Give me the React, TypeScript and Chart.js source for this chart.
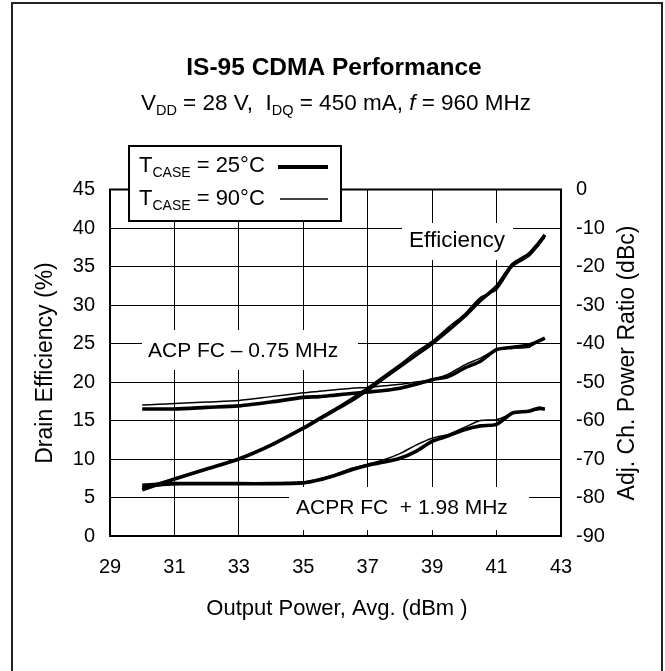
import React, { useEffect, useRef } from "react";
import { Chart, registerables } from "chart.js";
Chart.register(...registerables);

const FONT = '"Liberation Sans", Arial, sans-serif';

// Output power (dBm) sample points
const power = [30, 30.5, 31, 32, 33, 34, 35, 35.5, 36, 36.5, 37, 37.5, 38, 38.5, 39, 39.5, 40, 40.5, 41, 41.5, 42, 42.3, 42.5];

// Drain efficiency (%)
const eff25 = [6.0, 6.7, 7.4, 8.7, 10.0, 11.8, 14.0, 15.2, 16.4, 17.6, 19.0, 20.5, 22.0, 23.5, 25.0, 26.7, 28.5, 30.6, 32.4, 35.3, 36.6, 38.0, 39.1];
const eff90 = [6.4, 6.9, 7.4, 8.7, 10.1, 11.9, 14.1, 15.4, 16.6, 17.9, 19.3, 20.8, 22.3, 23.9, 25.3, 27.1, 28.8, 31.0, 32.0, 35.0, 36.3, 37.7, 38.8];

// ACP FC - 0.75 MHz (dBc)
const acp25 = [-57.0, -57.0, -57.0, -56.6, -56.2, -55.2, -54.0, -53.8, -53.4, -53.0, -52.6, -52.2, -51.6, -50.6, -49.4, -48.6, -46.4, -44.6, -41.6, -41.0, -40.4, -39.4, -38.6];
const acp90 = [-56.0, -55.8, -55.6, -55.2, -54.8, -53.8, -52.8, -52.4, -52.0, -51.6, -51.4, -51.0, -50.6, -50.0, -49.4, -48.0, -45.6, -43.8, -41.6, -41.2, -41.0, -39.4, -38.8];

// ACPR FC + 1.98 MHz (dBc)
const acpr25 = [-76.8, -76.6, -76.4, -76.4, -76.4, -76.4, -76.2, -75.4, -74.2, -72.8, -71.6, -70.8, -69.8, -68.0, -65.4, -64.0, -62.4, -61.4, -61.0, -58.0, -57.6, -56.8, -57.0];
const acpr90 = [-77.4, -77.0, -76.6, -76.4, -76.4, -76.2, -76.0, -75.2, -74.0, -72.4, -71.4, -70.2, -68.6, -66.4, -64.6, -63.6, -61.8, -60.0, -59.8, -58.2, -57.6, -57.2, -57.0];

const xTicks = [29, 31, 33, 35, 37, 39, 41, 43];

type Run = { t: string; size: number; bold?: boolean; italic?: boolean; dy?: number };

function runsWidth(ctx: CanvasRenderingContext2D, runs: Run[]) {
  let w = 0;
  for (const r of runs) {
    ctx.font = `${r.italic ? "italic " : ""}${r.bold ? "bold " : ""}${r.size}px ${FONT}`;
    w += ctx.measureText(r.t).width;
  }
  return w;
}

function drawRuns(ctx: CanvasRenderingContext2D, runs: Run[], x: number, y: number, align: "left" | "center") {
  let cx = align === "center" ? x - runsWidth(ctx, runs) / 2 : x;
  ctx.textAlign = "left";
  ctx.textBaseline = "alphabetic";
  ctx.fillStyle = "#000";
  for (const r of runs) {
    ctx.font = `${r.italic ? "italic " : ""}${r.bold ? "bold " : ""}${r.size}px ${FONT}`;
    ctx.fillText(r.t, cx, y + (r.dy || 0));
    cx += ctx.measureText(r.t).width;
  }
}

const decor = {
  id: "decor",
  beforeDatasetsDraw(chart: any) {
    const ctx: CanvasRenderingContext2D = chart.ctx;
    const a = chart.chartArea;
    ctx.save();
    // label boxes
    ctx.fillStyle = "#fff";
    ctx.fillRect(402, 223, 111, 37);
    ctx.fillRect(142, 330, 216, 40);
    ctx.fillRect(289, 487, 240, 43);
    // plot frame
    ctx.strokeStyle = "#000";
    ctx.lineWidth = 2;
    ctx.strokeRect(a.left, a.top, a.right - a.left, a.bottom - a.top);
    drawRuns(ctx, [{ t: "Efficiency", size: 22.5 }], 457, 247, "center");
    drawRuns(ctx, [{ t: "ACP FC \u2013 0.75 MHz", size: 21 }], 148, 357, "left");
    drawRuns(ctx, [{ t: "ACPR FC  + 1.98 MHz", size: 21 }], 296, 514, "left");
    ctx.restore();
  },
  afterDatasetsDraw(chart: any) {
    const ctx: CanvasRenderingContext2D = chart.ctx;
    ctx.save();
    // title
    drawRuns(ctx, [{ t: "IS-95 CDMA Performance", size: 24.5, bold: true }], 334, 75, "center");
    drawRuns(
      ctx,
      [
        { t: "V", size: 22.5 },
        { t: "DD", size: 14.5, dy: 5 },
        { t: " = 28 V,  I", size: 22.5 },
        { t: "DQ", size: 14.5, dy: 5 },
        { t: " = 450 mA, ", size: 22.5 },
        { t: "f", size: 22.5, italic: true },
        { t: " = 960 MHz", size: 22.5 },
      ],
      336,
      110,
      "center"
    );
    // legend
    ctx.fillStyle = "#fff";
    ctx.fillRect(129, 146, 212, 75);
    ctx.strokeStyle = "#000";
    ctx.lineWidth = 2;
    ctx.strokeRect(129, 146, 212, 75);
    drawRuns(ctx, [{ t: "T", size: 22 }, { t: "CASE", size: 14, dy: 5 }, { t: " = 25\u00b0C", size: 22 }], 139, 172, "left");
    drawRuns(ctx, [{ t: "T", size: 22 }, { t: "CASE", size: 14, dy: 5 }, { t: " = 90\u00b0C", size: 22 }], 139, 205, "left");
    ctx.strokeStyle = "#000";
    ctx.lineWidth = 3.8;
    ctx.beginPath();
    ctx.moveTo(278, 167);
    ctx.lineTo(328, 167);
    ctx.stroke();
    ctx.lineWidth = 1.5;
    ctx.beginPath();
    ctx.moveTo(280, 199);
    ctx.lineTo(328, 199);
    ctx.stroke();
    // axis titles
    drawRuns(ctx, [{ t: "Output Power, Avg. (dBm )", size: 22 }], 337, 615, "center");
    ctx.save();
    ctx.translate(52, 363);
    ctx.rotate(-Math.PI / 2);
    drawRuns(ctx, [{ t: "Drain Efficiency (%)", size: 23 }], 0, 0, "center");
    ctx.restore();
    ctx.save();
    ctx.translate(634, 363);
    ctx.rotate(-Math.PI / 2);
    drawRuns(ctx, [{ t: "Adj. Ch. Power Ratio (dBc)", size: 23 }], 0, 0, "center");
    ctx.restore();
    // outer border
    ctx.strokeStyle = "#222";
    ctx.lineWidth = 2;
    ctx.strokeRect(12, 3, 650, 720);
    ctx.restore();
  },
};

export default function App() {
  const ref = useRef<HTMLCanvasElement>(null);
  useEffect(() => {
    const canvas = ref.current!;
    const mk = (vals: number[]) => power.map((x, i) => ({ x, y: vals[i] }));
    const thick = { borderColor: "#000", borderWidth: 3.6, pointRadius: 0, tension: 0.25, fill: false };
    const thin = { borderColor: "#000", borderWidth: 1.5, pointRadius: 0, tension: 0.25, fill: false };
    const chart = new Chart(canvas, {
      type: "line",
      data: {
        datasets: [
          { label: "Efficiency 25C", data: mk(eff25), yAxisID: "y", ...thick },
          { label: "Efficiency 90C", data: mk(eff90), yAxisID: "y", ...thin },
          { label: "ACP 25C", data: mk(acp25), yAxisID: "y2", ...thick },
          { label: "ACP 90C", data: mk(acp90), yAxisID: "y2", ...thin },
          { label: "ACPR 25C", data: mk(acpr25), yAxisID: "y2", ...thick },
          { label: "ACPR 90C", data: mk(acpr90), yAxisID: "y2", ...thin },
        ] as any,
      },
      options: {
        animation: false,
        responsive: false,
        devicePixelRatio: 1,
        layout: { padding: { left: 0, right: 0, top: 189.5, bottom: 0 } },
        plugins: { legend: { display: false }, title: { display: false }, tooltip: { enabled: false } },
        scales: {
          x: {
            type: "linear",
            min: 29,
            max: 43,
            afterBuildTicks: (s: any) => {
              s.ticks = xTicks.map((v) => ({ value: v }));
            },
            afterFit: (s: any) => {
              s.height = 135;
            },
            grid: { color: "#000", lineWidth: 1, drawTicks: false },
            border: { display: false },
            ticks: { padding: 19, color: "#000", font: { family: FONT, size: 20 } },
          },
          y: {
            type: "linear",
            position: "left",
            min: 0,
            max: 45,
            afterFit: (s: any) => {
              s.width = 110;
            },
            grid: { color: "#000", lineWidth: 1, drawTicks: false },
            border: { display: false },
            ticks: { stepSize: 5, padding: 15, color: "#000", font: { family: FONT, size: 20 } },
          },
          y2: {
            type: "linear",
            position: "right",
            min: -90,
            max: 0,
            afterFit: (s: any) => {
              s.width = 104;
            },
            grid: { display: false, drawTicks: false },
            border: { display: false },
            ticks: { stepSize: 10, padding: 15, color: "#000", font: { family: FONT, size: 20 } },
          },
        },
      } as any,
      plugins: [decor],
    });
    return () => chart.destroy();
  }, []);
  return (
    <div style={{ position: "absolute", left: 0, top: 0, width: 665, height: 671, background: "#fff", overflow: "hidden" }}>
      <canvas ref={ref} width={665} height={671} style={{ display: "block", width: 665, height: 671 }} />
    </div>
  );
}
